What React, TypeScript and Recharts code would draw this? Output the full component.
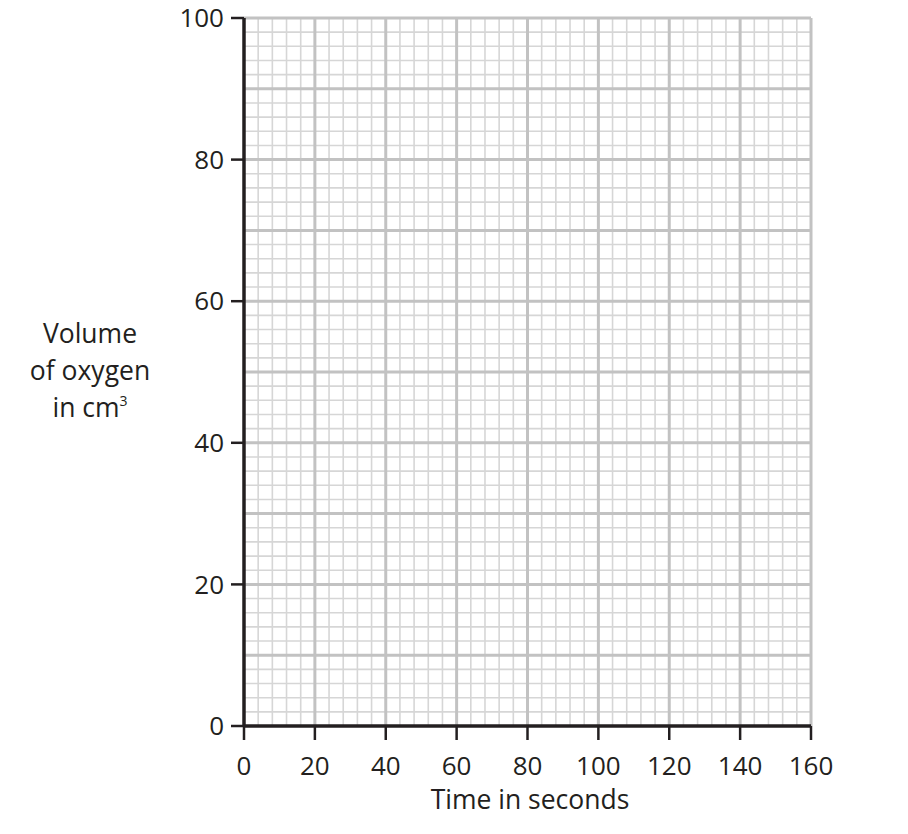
import React from 'react'
import {
  LineChart, Line, XAxis, YAxis, ReferenceLine,
} from 'recharts'

const xTicks = [0, 20, 40, 60, 80, 100, 120, 140, 160]
const yTicks = [0, 20, 40, 60, 80, 100]
const xMajor = [20, 40, 60, 80, 100, 120, 140, 160]
const yMajor = [10, 20, 30, 40, 50, 60, 70, 80, 90, 100]
const xMinor = [4, 8, 12, 16, 24, 28, 32, 36, 44, 48, 52, 56, 64, 68, 72, 76, 84, 88, 92, 96,
  104, 108, 112, 116, 124, 128, 132, 136, 144, 148, 152, 156]
const yMinor = [2, 4, 6, 8, 12, 14, 16, 18, 22, 24, 26, 28, 32, 34, 36, 38, 42, 44, 46, 48,
  52, 54, 56, 58, 62, 64, 66, 68, 72, 74, 76, 78, 82, 84, 86, 88, 92, 94, 96, 98]
// empty plot — nothing drawn on the paper yet
const times = [0, 160]
const volumes: (number | null)[] = [null, null]
const data = times.map((t, i) => ({ t, v: volumes[i] }))

const FONT = '"Open Sans", sans-serif'
const INK = '#231f20'
const minorColor = '#d6d6d6'
const majorColor = '#c2c2c2'

export default function App() {
  return (
    <div style={{ position: 'absolute', left: 0, top: 0, width: 908, height: 834, background: '#fff', fontFamily: FONT }}>
      <LineChart width={908} height={834} data={data}
        margin={{ top: 18, right: 97, left: 184, bottom: 68 }}>
        <XAxis
          dataKey="t" type="number" domain={[0, 160]} ticks={xTicks}
          allowDataOverflow
          axisLine={false}
          tickLine={{ stroke: INK, strokeWidth: 2.5 }}
          tickSize={14} tickMargin={17}
          tick={{ fill: INK, fontSize: 26, fontFamily: FONT }}
          height={40}
        />
        <YAxis
          type="number" domain={[0, 100]} ticks={yTicks}
          allowDataOverflow
          axisLine={false}
          tickLine={{ stroke: INK, strokeWidth: 2.5 }}
          tickSize={13} tickMargin={7}
          tick={{ fill: INK, fontSize: 26, fontFamily: FONT }}
          width={60}
        />
        {xMinor.map(v => (
          <ReferenceLine key={'xm' + v} x={v} stroke={minorColor} strokeWidth={1.6} />
        ))}
        {yMinor.map(v => (
          <ReferenceLine key={'ym' + v} y={v} stroke={minorColor} strokeWidth={1.6} />
        ))}
        {xMajor.map(v => (
          <ReferenceLine key={'xM' + v} x={v} stroke={majorColor} strokeWidth={3} />
        ))}
        {yMajor.map(v => (
          <ReferenceLine key={'yM' + v} y={v} stroke={majorColor} strokeWidth={3} />
        ))}
        <ReferenceLine x={0} stroke={INK} strokeWidth={3.5} />
        <ReferenceLine y={0} stroke={INK} strokeWidth={3.5} />
        <Line dataKey="v" stroke="#000" dot={false} isAnimationActive={false} />
      </LineChart>
      <div style={{ position: 'absolute', left: 0, width: 180, top: 315, textAlign: 'center', fontSize: 26.5, lineHeight: '37px', color: INK }}>
        Volume<br />of oxygen<br />in cm<sup style={{ fontSize: 14, verticalAlign: 'top', lineHeight: '24px' }}>3</sup>
      </div>
      <div style={{ position: 'absolute', left: 330, width: 400, top: 781, textAlign: 'center', fontSize: 26.5, color: INK }}>
        Time in seconds
      </div>
    </div>
  )
}
